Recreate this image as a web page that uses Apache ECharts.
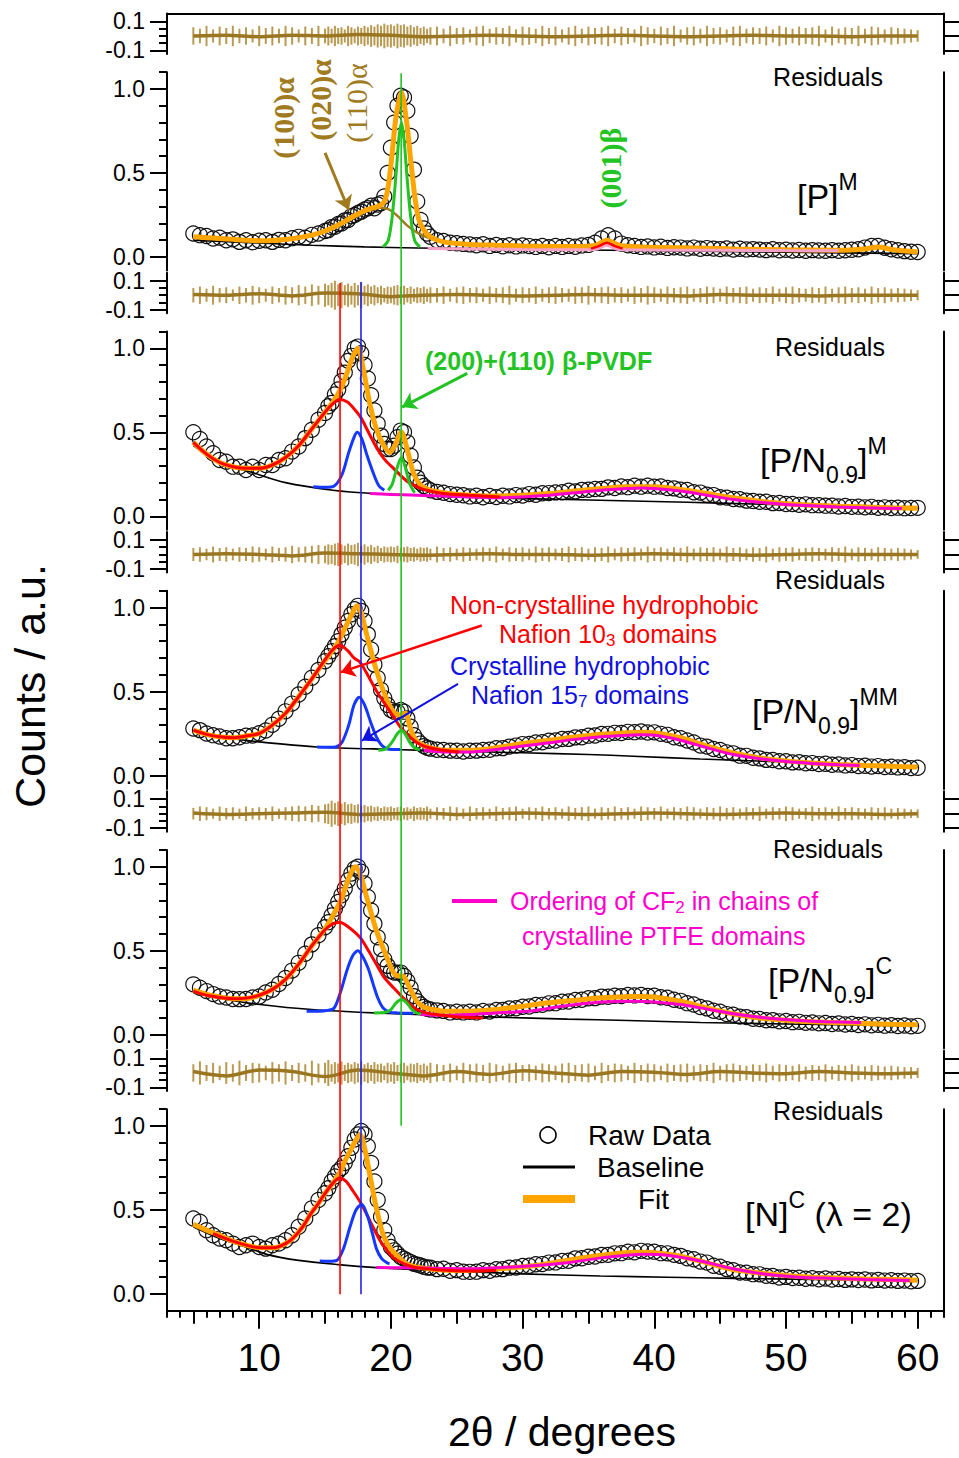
<!DOCTYPE html>
<html><head><meta charset="utf-8">
<script src="https://cdn.jsdelivr.net/npm/echarts@6/dist/echarts.min.js"></script>
<style>html,body{margin:0;padding:0;background:#fff}#c{width:959px;height:1458px}</style>
</head><body><div id="c"></div>
<script>
// ---------------- DATA ----------------
const rawX = [
 5,5.5,6,6.5,7,7.5,8,8.5,9,9.5,
 10,10.5,11,11.5,12,12.5,13,13.5,14,14.5,
 15,15.25,15.5,15.75,16,16.25,16.5,16.75,17,17.25,
 17.5,17.75,18,18.25,18.5,18.75,19,19.25,19.5,19.75,
 20,20.25,20.5,20.75,21,21.25,21.5,21.75,22,22.25,
 22.5,22.75,23,23.5,24,24.5,25,25.5,26,26.5,
 27,27.5,28,28.5,29,29.5,30,30.5,31,31.5,
 32,32.5,33,33.5,34,34.5,35,35.5,36,36.5,
 37,37.5,38,38.5,39,39.5,40,40.5,41,41.5,
 42,42.5,43,43.5,44,44.5,45,45.5,46,46.5,
 47,47.5,48,48.5,49,49.5,50,50.5,51,51.5,
 52,52.5,53,53.5,54,54.5,55,55.5,56,56.5,
 57,57.5,58,58.5,59,59.5,60];

const raw1 = [
 0.14,0.13,0.125,0.11,0.115,0.1,0.105,0.09,0.1,0.088,
 0.097,0.1,0.09,0.102,0.1,0.112,0.12,0.115,0.132,0.14,
 0.155,0.16,0.178,0.18,0.197,0.2,0.218,0.22,0.243,0.25,
 0.262,0.27,0.283,0.29,0.305,0.29,0.312,0.32,0.36,0.5,
 0.65,0.8,0.9,0.96,0.95,0.87,0.72,0.52,0.33,0.22,
 0.17,0.14,0.12,0.1,0.095,0.085,0.082,0.078,0.075,0.07,
 0.076,0.066,0.072,0.064,0.07,0.063,0.069,0.065,0.06,0.066,
 0.058,0.066,0.06,0.066,0.061,0.069,0.072,0.085,0.11,0.13,
 0.11,0.08,0.07,0.066,0.06,0.063,0.057,0.061,0.054,0.058,
 0.056,0.051,0.056,0.049,0.053,0.05,0.047,0.051,0.044,0.049,
 0.045,0.047,0.044,0.041,0.046,0.04,0.043,0.039,0.042,0.037,
 0.041,0.039,0.037,0.041,0.037,0.04,0.043,0.046,0.056,0.066,
 0.066,0.055,0.046,0.04,0.035,0.031,0.03];
const raw2 = [
 0.5,0.46,0.415,0.375,0.335,0.325,0.295,0.295,0.275,0.295,
 0.275,0.305,0.305,0.335,0.345,0.385,0.415,0.465,0.515,0.575,
 0.615,0.655,0.675,0.725,0.755,0.805,0.855,0.925,0.955,1.0,
 1.01,0.97,0.9,0.82,0.72,0.63,0.55,0.48,0.43,0.4,
 0.4,0.42,0.47,0.51,0.5,0.44,0.36,0.29,0.23,0.2,
 0.18,0.165,0.155,0.145,0.14,0.132,0.128,0.125,0.118,0.122,
 0.113,0.121,0.114,0.122,0.118,0.126,0.123,0.132,0.128,0.137,
 0.138,0.142,0.143,0.152,0.148,0.157,0.158,0.162,0.163,0.172,
 0.168,0.177,0.173,0.182,0.176,0.182,0.176,0.177,0.168,0.166,
 0.158,0.156,0.143,0.141,0.128,0.126,0.113,0.111,0.103,0.101,
 0.093,0.091,0.086,0.086,0.078,0.079,0.073,0.073,0.068,0.071,
 0.066,0.066,0.063,0.063,0.058,0.061,0.056,0.057,0.053,0.056,
 0.05,0.053,0.049,0.051,0.048,0.049,0.05];
const raw3 = [
 0.28,0.27,0.25,0.24,0.232,0.222,0.222,0.228,0.237,0.238,
 0.252,0.268,0.302,0.338,0.382,0.428,0.482,0.528,0.582,0.628,
 0.68,0.71,0.74,0.77,0.8,0.84,0.88,0.92,0.96,0.99,
 1.01,0.98,0.92,0.84,0.75,0.66,0.58,0.51,0.46,0.42,
 0.39,0.38,0.38,0.39,0.38,0.34,0.29,0.24,0.21,0.19,
 0.175,0.165,0.16,0.153,0.152,0.148,0.147,0.143,0.147,0.148,
 0.152,0.153,0.162,0.163,0.172,0.178,0.187,0.188,0.197,0.198,
 0.207,0.208,0.217,0.218,0.227,0.228,0.237,0.238,0.247,0.248,
 0.254,0.253,0.26,0.258,0.262,0.256,0.257,0.248,0.242,0.228,
 0.222,0.208,0.197,0.178,0.172,0.158,0.152,0.138,0.132,0.118,
 0.117,0.106,0.102,0.093,0.092,0.085,0.085,0.078,0.079,0.073,
 0.074,0.068,0.07,0.064,0.066,0.06,0.062,0.056,0.058,0.053,
 0.056,0.05,0.052,0.048,0.05,0.044,0.046];
const raw4 = [
 0.3,0.28,0.26,0.242,0.228,0.222,0.213,0.212,0.213,0.222,
 0.228,0.252,0.268,0.302,0.338,0.382,0.428,0.482,0.538,0.592,
 0.64,0.67,0.71,0.75,0.79,0.83,0.87,0.92,0.96,0.99,
 1.0,0.97,0.9,0.82,0.74,0.66,0.58,0.51,0.45,0.41,
 0.38,0.37,0.37,0.37,0.35,0.32,0.28,0.23,0.2,0.18,
 0.165,0.155,0.15,0.145,0.142,0.133,0.137,0.133,0.137,0.133,
 0.142,0.138,0.147,0.148,0.157,0.158,0.167,0.168,0.177,0.178,
 0.187,0.188,0.197,0.198,0.207,0.208,0.217,0.218,0.227,0.226,
 0.232,0.23,0.237,0.234,0.237,0.231,0.232,0.223,0.22,0.208,
 0.202,0.188,0.18,0.165,0.157,0.143,0.137,0.123,0.119,0.108,
 0.105,0.095,0.094,0.086,0.087,0.08,0.082,0.075,0.077,0.071,
 0.073,0.068,0.07,0.064,0.067,0.061,0.064,0.058,0.062,0.056,
 0.059,0.054,0.057,0.052,0.055,0.05,0.053];
const raw5 = [
 0.45,0.43,0.38,0.35,0.33,0.32,0.3,0.28,0.29,0.3,
 0.28,0.27,0.29,0.3,0.32,0.35,0.4,0.45,0.51,0.56,
 0.6,0.63,0.67,0.7,0.73,0.75,0.78,0.82,0.87,0.92,
 0.95,0.97,0.95,0.88,0.78,0.67,0.56,0.46,0.38,0.32,
 0.28,0.26,0.24,0.22,0.21,0.2,0.19,0.18,0.175,0.17,
 0.162,0.158,0.157,0.148,0.15,0.138,0.142,0.133,0.132,0.133,
 0.142,0.138,0.147,0.148,0.157,0.158,0.167,0.168,0.177,0.178,
 0.187,0.188,0.197,0.198,0.212,0.213,0.222,0.223,0.232,0.233,
 0.242,0.243,0.252,0.248,0.257,0.253,0.252,0.243,0.242,0.233,
 0.227,0.213,0.207,0.193,0.187,0.168,0.162,0.148,0.142,0.128,
 0.127,0.118,0.117,0.108,0.107,0.098,0.102,0.095,0.097,0.091,
 0.094,0.088,0.092,0.086,0.089,0.084,0.087,0.083,0.086,0.081,
 0.084,0.08,0.082,0.078,0.08,0.076,0.078];

// fits and components as [2theta, counts]
const fit1 = [[5,0.12],[6,0.115],[7,0.11],[8,0.105],[9,0.1],[10,0.097],[11,0.098],[12,0.104],[13,0.115],[14,0.13],[15,0.155],[16,0.19],[17,0.235],[18,0.275],[18.5,0.29],[19,0.3],[19.5,0.33],[19.8,0.42],[20.1,0.62],[20.4,0.84],[20.8,0.98],[21.2,0.8],[21.5,0.58],[21.8,0.37],[22.1,0.23],[22.5,0.16],[23,0.12],[24,0.09],[26,0.075],[28,0.07],[30,0.066],[32,0.063],[34,0.062],[35.5,0.068],[36.4,0.1],[37.3,0.07],[39,0.06],[42,0.055],[46,0.048],[50,0.043],[54,0.04],[56,0.048],[57,0.06],[58,0.045],[60,0.03]];
const base1 = [[5,0.1],[8,0.09],[10,0.083],[14,0.07],[18,0.06],[22,0.054],[26,0.05],[30,0.046],[40,0.037],[50,0.028],[60,0.02]];
const alpha1 = [[8,0.1],[10,0.098],[12,0.104],[14,0.13],[16,0.19],[18,0.27],[19,0.295],[19.8,0.285],[20.5,0.245],[21.2,0.19],[22,0.145],[23,0.11],[24,0.09],[26,0.075]];
const green1 = [[19.4,0.06],[19.8,0.1],[20.1,0.24],[20.4,0.5],[20.6,0.7],[20.8,0.8],[21,0.7],[21.2,0.5],[21.5,0.24],[21.8,0.1],[22.2,0.06]];
const pink1 = [[22.8,0.05],[26,0.048],[30,0.045],[34,0.043],[35.5,0.045],[36.4,0.07],[37.3,0.045],[40,0.042],[45,0.04],[50,0.038],[54,0.037]];
const red1 = [[35.2,0.05],[35.8,0.065],[36.4,0.085],[37,0.065],[37.6,0.05]];

const fit2 = [[5,0.44],[6,0.37],[7,0.32],[8,0.295],[9,0.285],[10,0.285],[11,0.305],[12,0.35],[13,0.42],[14,0.52],[15,0.62],[15.6,0.68],[16.2,0.76],[16.7,0.86],[17.1,0.95],[17.5,1.0],[17.9,0.88],[18.4,0.67],[18.9,0.52],[19.4,0.43],[19.9,0.38],[20.3,0.42],[20.8,0.5],[21.2,0.41],[21.7,0.26],[22.2,0.19],[22.8,0.16],[24,0.14],[26,0.125],[28,0.12],[30,0.125],[32,0.135],[34,0.15],[36,0.165],[38,0.175],[40,0.175],[42,0.16],[44,0.135],[46,0.11],[48,0.09],[50,0.075],[52,0.066],[54,0.06],[56,0.055],[58,0.05],[60,0.048]];
const base2 = [[5,0.42],[7,0.32],[9.5,0.26],[12,0.2],[15.6,0.155],[18.7,0.135],[22,0.125],[25,0.115],[30,0.105],[35,0.097],[40,0.088],[45,0.078],[50,0.068],[55,0.057],[60,0.047]];
const red2 = [[5,0.44],[6,0.37],[7,0.32],[8,0.295],[9,0.285],[10,0.285],[11,0.305],[12,0.35],[13,0.42],[14,0.52],[15,0.62],[15.6,0.67],[16.1,0.695],[16.7,0.68],[17.2,0.64],[17.7,0.59],[18.3,0.5],[18.9,0.41],[19.5,0.34],[20.2,0.285],[21.2,0.21],[22,0.175],[22.7,0.155],[24,0.135],[26,0.125],[28.3,0.115]];
const blue2 = [[14.1,0.175],[15,0.172],[15.7,0.18],[16.3,0.25],[16.8,0.38],[17.2,0.47],[17.45,0.5],[17.8,0.46],[18.2,0.36],[18.7,0.25],[19.1,0.18],[19.5,0.155]];
const green2 = [[19.8,0.155],[20.1,0.19],[20.4,0.27],[20.8,0.35],[21.1,0.29],[21.4,0.2],[21.8,0.14]];
const mag2 = [[18.4,0.135],[20,0.13],[22,0.125],[24,0.12],[26,0.115],[28.3,0.11],[30,0.115],[32,0.125],[34,0.14],[36,0.155],[38,0.165],[39,0.168],[40,0.165],[42,0.15],[44,0.125],[46,0.1],[48,0.083],[50,0.07],[52,0.062],[54,0.055],[56,0.05],[58.8,0.046]];

const fit3 = [[5,0.27],[6,0.245],[7,0.23],[8,0.225],[9,0.235],[10,0.25],[11,0.3],[12,0.37],[13,0.47],[14,0.575],[15,0.685],[15.9,0.78],[16.65,0.9],[17.1,0.97],[17.4,1.01],[17.7,0.98],[18.16,0.84],[18.9,0.625],[19.7,0.45],[20.2,0.38],[20.7,0.36],[21.1,0.37],[21.45,0.29],[21.8,0.22],[22.2,0.19],[23,0.165],[24,0.15],[26,0.15],[28,0.165],[30,0.19],[32,0.21],[34,0.23],[36,0.245],[38,0.255],[39,0.258],[40,0.255],[42,0.225],[44,0.175],[46,0.135],[48,0.105],[50,0.087],[52,0.075],[54,0.066],[56,0.06],[58,0.055],[60,0.05]];
const base3 = [[5,0.26],[7.5,0.225],[10,0.2],[14.4,0.17],[20.2,0.155],[25,0.145],[30,0.135],[35,0.125],[38.4,0.115],[43.5,0.098],[50,0.08],[55,0.065],[60,0.05]];
const red3 = [[5,0.27],[6,0.245],[7,0.23],[8,0.225],[9,0.235],[10,0.25],[11,0.3],[12,0.37],[13,0.47],[14,0.575],[15,0.69],[15.6,0.75],[16.1,0.775],[16.7,0.745],[17.2,0.7],[17.65,0.675],[18.3,0.59],[18.9,0.505],[19.6,0.42],[20.2,0.35],[20.8,0.28],[21.45,0.23],[22,0.195],[22.7,0.17],[24,0.15],[25.2,0.14]];
const blue3 = [[14.4,0.17],[15.3,0.168],[15.8,0.17],[16.3,0.2],[16.8,0.3],[17.2,0.42],[17.6,0.466],[18,0.42],[18.5,0.31],[18.9,0.23],[19.3,0.18],[19.7,0.16],[20.2,0.155],[20.7,0.155]];
const green3 = [[19.05,0.15],[19.6,0.158],[20.1,0.2],[20.5,0.25],[20.8,0.27],[21.1,0.245],[21.5,0.19],[21.9,0.16],[22.2,0.155]];
const mag3 = [[22.5,0.15],[24,0.14],[26,0.14],[28,0.155],[30,0.175],[32,0.195],[34,0.215],[36,0.23],[38,0.24],[39,0.242],[40,0.24],[42,0.21],[44,0.165],[46,0.125],[48,0.1],[50,0.083],[52,0.072],[54,0.064],[55.6,0.06]];

const fit4 = [[5,0.265],[6,0.24],[7,0.225],[8,0.215],[9,0.215],[10,0.235],[11,0.27],[12,0.33],[13,0.42],[14,0.53],[15,0.63],[15.6,0.71],[16.2,0.8],[16.65,0.9],[17,0.97],[17.3,1.0],[17.65,0.96],[18.16,0.82],[18.9,0.62],[19.7,0.46],[20.2,0.37],[20.6,0.35],[20.9,0.35],[21.3,0.3],[21.96,0.2],[22.5,0.165],[23.2,0.15],[24,0.14],[26,0.14],[28,0.15],[30,0.17],[32,0.19],[34,0.205],[36,0.22],[38,0.227],[39,0.228],[40,0.225],[42,0.2],[44,0.16],[46,0.125],[48,0.1],[50,0.087],[52,0.078],[54,0.072],[56,0.067],[58,0.062],[60,0.06]];
const base4 = [[5,0.25],[7.5,0.21],[10.06,0.18],[14,0.15],[18.7,0.13],[24,0.115],[28,0.105],[33.4,0.093],[38,0.085],[43.5,0.073],[50,0.064],[55,0.058],[60,0.052]];
const red4 = [[5,0.26],[6,0.235],[7,0.222],[8,0.215],[9,0.218],[10,0.235],[11,0.27],[12,0.33],[13,0.42],[14,0.53],[15,0.625],[15.6,0.66],[16.1,0.67],[16.8,0.64],[17.65,0.58],[18.3,0.5],[18.9,0.42],[19.5,0.34],[20.2,0.28],[20.8,0.23],[21.45,0.18],[22,0.15],[22.7,0.13],[24,0.115],[25.2,0.105],[27,0.1]];
const blue4 = [[13.6,0.14],[14.5,0.14],[15.2,0.145],[15.7,0.16],[16.2,0.26],[16.65,0.38],[17.1,0.47],[17.5,0.5],[17.9,0.46],[18.3,0.39],[18.66,0.3],[19,0.22],[19.4,0.16],[19.9,0.135],[20.5,0.13],[21.7,0.128]];
const green4 = [[18.7,0.13],[19.5,0.132],[20,0.15],[20.4,0.19],[20.8,0.21],[21.2,0.19],[21.6,0.15],[22,0.128],[22.3,0.125]];
const mag4 = [[22.2,0.12],[24,0.115],[26,0.12],[28,0.13],[30.8,0.143],[33,0.17],[36,0.195],[38.4,0.2],[40,0.195],[42,0.18],[43.5,0.16],[46,0.125],[48.5,0.1],[51,0.085],[53,0.078],[55.7,0.073]];

const fit5 = [[5,0.415],[6,0.38],[6.8,0.355],[8,0.315],[9.3,0.285],[10.2,0.275],[11.1,0.275],[12,0.3],[12.6,0.335],[13.3,0.4],[13.9,0.475],[14.5,0.54],[15.1,0.61],[15.6,0.66],[16.1,0.72],[16.5,0.79],[16.9,0.85],[17.3,0.91],[17.65,0.95],[18,0.87],[18.4,0.71],[18.9,0.51],[19.4,0.355],[19.8,0.29],[20.2,0.25],[21.2,0.18],[22,0.16],[23.2,0.148],[25,0.14],[27,0.145],[29,0.155],[31,0.17],[33,0.195],[35,0.22],[37,0.24],[39,0.248],[40,0.246],[42,0.225],[44,0.185],[46,0.145],[48,0.125],[50,0.11],[52,0.1],[54,0.095],[56,0.09],[58,0.086],[60,0.082]];
const base5 = [[5,0.4],[7,0.33],[9,0.28],[10.57,0.236],[13,0.2],[16,0.175],[18.9,0.157],[22,0.145],[26,0.132],[30,0.12],[35.9,0.107],[41,0.1],[46,0.093],[52,0.087],[60,0.08]];
const red5 = [[6.5,0.36],[8,0.315],[9.3,0.285],[10.2,0.275],[11.1,0.275],[12,0.3],[12.6,0.335],[13.3,0.4],[13.9,0.475],[14.5,0.54],[15.1,0.61],[15.6,0.66],[16.1,0.69],[16.6,0.67],[17.15,0.61],[17.65,0.55],[18.16,0.475],[18.7,0.39],[19.2,0.315],[19.7,0.26],[20.2,0.215],[21,0.18],[21.96,0.157],[23.5,0.145],[25.8,0.137],[28,0.14]];
const blue5 = [[14.6,0.196],[15.3,0.195],[15.9,0.2],[16.4,0.27],[16.9,0.4],[17.35,0.5],[17.78,0.534],[18.2,0.47],[18.6,0.36],[18.9,0.27],[19.3,0.21],[19.7,0.186],[19.9,0.18]];
const mag5 = [[18.9,0.157],[21,0.156],[24,0.152],[26,0.15],[28.3,0.157],[31,0.17],[33.4,0.186],[36,0.215],[39.2,0.236],[41,0.23],[43.5,0.196],[46,0.15],[48.5,0.117],[51,0.1],[53.6,0.093],[56,0.087],[59.4,0.08]];

// residuals: half-height of each residual bar (at rawX) and the residual trace
const amp1 = [
 0.06,0.05,0.07,0.045,0.065,0.055,0.07,0.05,0.06,0.045,
 0.07,0.055,0.065,0.05,0.07,0.06,0.045,0.065,0.055,0.07,
 0.05,0.065,0.05,0.07,0.055,0.06,0.045,0.07,0.06,0.05,
 0.065,0.055,0.07,0.06,0.075,0.065,0.08,0.07,0.085,0.075,
 0.08,0.07,0.085,0.075,0.08,0.065,0.075,0.06,0.07,0.055,
 0.065,0.05,0.06,0.065,0.05,0.07,0.055,0.06,0.045,0.065,
 0.07,0.05,0.06,0.055,0.07,0.045,0.065,0.06,0.05,0.07,
 0.055,0.065,0.045,0.06,0.07,0.05,0.065,0.055,0.06,0.07,
 0.05,0.065,0.055,0.045,0.07,0.06,0.05,0.065,0.055,0.07,
 0.045,0.06,0.065,0.05,0.07,0.055,0.06,0.045,0.065,0.07,
 0.05,0.06,0.055,0.065,0.045,0.07,0.06,0.05,0.065,0.055,
 0.06,0.07,0.045,0.065,0.05,0.06,0.055,0.07,0.05,0.065,
 0.06,0.045,0.06,0.055,0.05,0.045,0.04];
const amp2 = [
 0.05,0.06,0.045,0.065,0.05,0.055,0.04,0.06,0.05,0.065,
 0.055,0.045,0.06,0.05,0.065,0.055,0.07,0.06,0.075,0.065,
 0.08,0.07,0.085,0.1,0.075,0.09,0.07,0.08,0.065,0.085,
 0.07,0.09,0.065,0.075,0.06,0.07,0.055,0.065,0.05,0.06,
 0.055,0.065,0.07,0.06,0.065,0.05,0.06,0.045,0.055,0.05,
 0.06,0.045,0.055,0.05,0.06,0.045,0.055,0.06,0.05,0.055,
 0.045,0.06,0.05,0.055,0.065,0.045,0.055,0.05,0.06,0.045,
 0.055,0.06,0.05,0.045,0.06,0.055,0.065,0.05,0.055,0.06,
 0.05,0.055,0.045,0.06,0.05,0.065,0.055,0.045,0.06,0.05,
 0.055,0.06,0.045,0.05,0.06,0.055,0.045,0.06,0.05,0.055,
 0.06,0.045,0.055,0.05,0.06,0.045,0.055,0.06,0.05,0.045,
 0.055,0.05,0.06,0.045,0.055,0.06,0.05,0.055,0.045,0.06,
 0.05,0.055,0.045,0.05,0.045,0.04,0.035];
const amp3 = [
 0.045,0.05,0.04,0.055,0.045,0.05,0.04,0.05,0.045,0.055,
 0.05,0.04,0.055,0.045,0.05,0.06,0.05,0.055,0.06,0.065,
 0.06,0.07,0.065,0.075,0.08,0.07,0.06,0.075,0.065,0.07,
 0.08,0.06,0.07,0.055,0.065,0.05,0.06,0.045,0.055,0.05,
 0.055,0.05,0.06,0.045,0.05,0.055,0.045,0.05,0.04,0.05,
 0.045,0.05,0.04,0.055,0.045,0.05,0.04,0.05,0.045,0.04,
 0.05,0.045,0.055,0.04,0.05,0.045,0.05,0.04,0.055,0.045,
 0.05,0.04,0.045,0.055,0.045,0.05,0.04,0.05,0.045,0.055,
 0.04,0.05,0.045,0.05,0.04,0.055,0.045,0.05,0.04,0.05,
 0.045,0.055,0.04,0.05,0.045,0.05,0.04,0.055,0.045,0.05,
 0.04,0.05,0.045,0.055,0.04,0.05,0.045,0.05,0.04,0.045,
 0.05,0.045,0.04,0.05,0.045,0.055,0.04,0.05,0.045,0.04,
 0.05,0.045,0.04,0.045,0.04,0.035,0.03];
const amp4 = [
 0.04,0.05,0.045,0.035,0.05,0.04,0.045,0.035,0.05,0.04,
 0.045,0.04,0.05,0.035,0.045,0.05,0.055,0.05,0.06,0.055,
 0.065,0.07,0.09,0.075,0.085,0.07,0.08,0.065,0.07,0.06,
 0.065,0.055,0.06,0.05,0.055,0.045,0.05,0.04,0.05,0.045,
 0.05,0.04,0.045,0.05,0.04,0.045,0.035,0.05,0.04,0.045,
 0.04,0.05,0.035,0.045,0.04,0.05,0.045,0.035,0.05,0.04,
 0.045,0.035,0.05,0.04,0.045,0.05,0.035,0.045,0.04,0.05,
 0.04,0.045,0.035,0.05,0.04,0.045,0.05,0.035,0.045,0.04,
 0.05,0.04,0.045,0.035,0.05,0.045,0.04,0.05,0.035,0.045,
 0.04,0.05,0.045,0.035,0.045,0.04,0.05,0.04,0.045,0.035,
 0.045,0.04,0.05,0.035,0.045,0.04,0.05,0.045,0.035,0.04,
 0.05,0.04,0.045,0.035,0.05,0.04,0.045,0.04,0.035,0.045,
 0.04,0.045,0.035,0.04,0.035,0.03,0.03];
const amp5 = [
 0.06,0.08,0.055,0.07,0.05,0.075,0.06,0.085,0.055,0.07,
 0.065,0.05,0.075,0.06,0.08,0.055,0.07,0.06,0.085,0.065,
 0.07,0.09,0.06,0.075,0.065,0.08,0.055,0.07,0.06,0.075,
 0.065,0.08,0.06,0.07,0.055,0.075,0.06,0.065,0.05,0.07,
 0.06,0.075,0.055,0.065,0.07,0.05,0.065,0.06,0.07,0.055,
 0.065,0.05,0.07,0.06,0.055,0.065,0.05,0.07,0.06,0.065,
 0.055,0.07,0.06,0.05,0.065,0.07,0.055,0.06,0.05,0.065,
 0.06,0.05,0.065,0.07,0.055,0.06,0.065,0.05,0.07,0.055,
 0.065,0.06,0.05,0.07,0.055,0.065,0.06,0.05,0.065,0.055,
 0.06,0.065,0.05,0.06,0.055,0.07,0.05,0.06,0.065,0.055,
 0.05,0.06,0.055,0.065,0.05,0.06,0.055,0.05,0.06,0.045,
 0.055,0.05,0.06,0.045,0.055,0.05,0.06,0.05,0.045,0.055,
 0.05,0.045,0.05,0.045,0.04,0.04,0.035];
const traceX = [5,7.5,10,12.5,15,17.5,20,22.5,25,27.5,30,32.5,35,37.5,40,42.5,45,47.5,50,52.5,55,57.5,60];
const trace1 = [0,0.005,-0.005,0.005,0,0.01,0.005,-0.005,0,0.005,0,-0.005,0,0.005,0,-0.005,0,0.005,0,0,-0.005,0,0];
const trace2 = [0.005,0,0.01,-0.005,0.015,0.01,-0.01,0,0.005,0,-0.005,0,0.005,0,0,-0.005,0.005,0,0,-0.005,0,0,0];
const trace3 = [0,0.005,0,-0.01,0.01,0.005,0,-0.005,0,0.005,0,0,-0.005,0,0.005,0,0,-0.005,0,0.005,0,0,0];
const trace4 = [0.005,-0.005,0,0.005,0.01,-0.005,0,0.005,-0.005,0,0.005,0,-0.005,0,0.005,0,-0.005,0,0.005,0,0,-0.005,0];
const trace5 = [0.01,-0.02,0.02,0.01,-0.025,0.02,0,-0.02,0.01,-0.01,0.015,0,-0.015,0.01,0.005,-0.01,0.01,0,-0.005,0.01,0,-0.005,0];

// annotation arrows [[from],[to]] in data units of each panel
const arrowAlpha = [[15.0,0.62],[16.8,0.28]];
const arrowPVDF = [[25.8,0.85],[20.85,0.65]];
const arrowRed = [[26.9,0.893],[16.2,0.615]];
const arrowBlue = [[25.1,0.546],[17.8,0.208]];
// vertical reference lines: 2theta and span measured in panel units (0 = top of first panel, 5 = bottom)
const refX = [16.14, 17.73, 20.78];
const refSpan = [[1.04,4.94],[1.036,4.94],[0.23,4.29]];

// tick positions
const xMajor = [10,20,30,40,50,60];
const xMid = [5,15,25,35,45,55];
const xMinor = [3,4,5,6,7,8,9,10,11,12,13,14,15,16,17,18,19,20,21,22,23,24,25,26,27,28,29,30,31,32,33,34,35,36,37,38,39,40,41,42,43,44,45,46,47,48,49,50,51,52,53,54,55,56,57,58,59,60,61,62];
const yMajor = [0, 0.5, 1.0];
const yMinor = [0.1,0.2,0.3,0.4,0.6,0.7,0.8,0.9,1.1];
const rMajor = [-0.1, 0.1];
const rMinor = [-0.05, 0, 0.05];
const rRight = [-0.1, 0, 0.1];

// ---------------- LAYOUT / STYLE ----------------
const FONT = 'Liberation Sans, Arial, sans-serif';
const SERIF = 'Liberation Serif, Times New Roman, serif';
const L = 167, W = 777, STEP = 259.25, RES_TOP = 13.5, RES_H = 40.6, MAIN_TOP = 72.2, UNIT = 168;
const AX = {color:'#000', width:2};
const C = {orange:'#ffa500', red:'#ff0000', blue:'#1438ff', green:'#22c322', mag:'#ff00cc', pink:'#f7a0c8', brown:'#a07a1e', resBar:'#b99a52', resLine:'#9b7620'};

const grids = [], xAxes = [], yAxes = [], series = [];
function addGrid(rect, xOpt) {
  grids.push(Object.assign({left:L, width:W, containLabel:false}, rect));
  const gi = grids.length - 1;
  const base = {type:'value', gridIndex:gi, min:3, max:62, show:false, splitLine:{show:false}};
  const opt = Object.assign(base, xOpt || {});
  opt.axisLine = Object.assign({onZero:false}, opt.axisLine || {});
  xAxes.push(opt);
  return gi;
}
function addY(opt) {
  const o = Object.assign({type:'value', splitLine:{show:false}, axisLine:{show:false}, axisTick:{show:false}, axisLabel:{show:false}}, opt);
  o.axisLine = Object.assign({onZero:false}, o.axisLine);
  yAxes.push(o);
  return yAxes.length - 1;
}
const labelStyle = {color:'#000', fontFamily:FONT, fontSize:23, lineHeight:20, margin:22, formatter: v => Number(v).toFixed(1)};

const panels = [
  {raw:raw1, fit:fit1, base:base1, amp:amp1, trace:trace1, under:[[alpha1, C.brown, 2.5]], over:[[pink1, C.pink, 3],[red1, C.red, 2.5],[green1, C.green, 3]]},
  {raw:raw2, fit:fit2, base:base2, amp:amp2, trace:trace2, under:[], over:[[mag2, C.mag, 3],[red2, C.red, 3],[blue2, C.blue, 3],[green2, C.green, 3]]},
  {raw:raw3, fit:fit3, base:base3, amp:amp3, trace:trace3, under:[], over:[[mag3, C.mag, 3],[red3, C.red, 3],[blue3, C.blue, 3],[green3, C.green, 3]]},
  {raw:raw4, fit:fit4, base:base4, amp:amp4, trace:trace4, under:[], over:[[mag4, C.mag, 3],[red4, C.red, 3],[blue4, C.blue, 3],[green4, C.green, 3]]},
  {raw:raw5, fit:fit5, base:base5, amp:amp5, trace:trace5, under:[], over:[[mag5, C.mag, 3],[red5, C.red, 3],[blue5, C.blue, 3]]}
];
const mainAxis = [];

panels.forEach((p, k) => {
  const off = STEP * k;
  const last = k === 4;
  // residual strip
  const gr = addGrid({top:RES_TOP + off, height:RES_H}, k === 0 ? {show:true, position:'top', axisLine:{show:true, lineStyle:AX}, axisTick:{show:false}, axisLabel:{show:false}} : null);
  const yr = addY({gridIndex:gr, min:-0.125, max:0.155, position:'left', axisLine:{show:true, lineStyle:AX},
    axisTick:{show:true, length:17, lineStyle:AX, customValues:rMajor}, axisLabel:Object.assign({show:true, customValues:rMajor}, labelStyle)});
  addY({gridIndex:gr, min:-0.125, max:0.155, position:'right', axisLine:{show:true, lineStyle:AX},
    axisTick:{show:true, length:15, lineStyle:AX, customValues:rRight}});
  const gr2 = addGrid({top:RES_TOP + off, height:RES_H});
  addY({gridIndex:gr2, min:-0.125, max:0.155, position:'left', axisTick:{show:true, length:8, lineStyle:AX, customValues:rMinor}});
  // main panel
  const ymin = last ? -0.1 : -0.08;
  const h = (1.1 - ymin) * UNIT;
  const xOpt = last ? {show:true, position:'bottom', axisLine:{show:true, lineStyle:AX},
      axisTick:{show:true, length:18, lineStyle:AX, customValues:xMajor},
      axisLabel:{show:true, customValues:xMajor, color:'#000', fontFamily:FONT, fontSize:39, margin:27}} : null;
  const gm = addGrid({top:MAIN_TOP + off, height:h}, xOpt);
  const ym = addY({gridIndex:gm, min:ymin, max:1.1, position:'left', axisLine:{show:true, lineStyle:AX},
    axisTick:{show:true, length:17, lineStyle:AX, customValues:yMajor}, axisLabel:Object.assign({show:true, customValues:yMajor}, labelStyle)});
  addY({gridIndex:gm, min:ymin, max:1.1, position:'right', axisLine:{show:true, lineStyle:AX}});
  const gm2 = addGrid({top:MAIN_TOP + off, height:h});
  addY({gridIndex:gm2, min:ymin, max:1.1, position:'left', axisTick:{show:true, length:8, lineStyle:AX, customValues:yMinor}});
  mainAxis.push([gm, ym]);

  // residual bars
  series.push({type:'custom', xAxisIndex:gr, yAxisIndex:yr, silent:true, z:2,
    data: rawX.map((x, i) => [x, p.amp[i]]),
    renderItem: (params, api) => {
      const x = api.value(0), a = api.value(1);
      const p1 = api.coord([x, -a]), p2 = api.coord([x, a]);
      return {type:'line', shape:{x1:p1[0], y1:p1[1], x2:p2[0], y2:p2[1]}, style:{stroke:C.resBar, lineWidth:2}};
    }});
  series.push({type:'line', xAxisIndex:gr, yAxisIndex:yr, silent:true, z:3, showSymbol:false, smooth:0.3,
    data: traceX.map((x, i) => [x, p.trace[i]]), lineStyle:{color:C.resLine, width:3.5}});
  // raw data
  series.push({type:'scatter', xAxisIndex:gm, yAxisIndex:ym, silent:true, z:2, symbol:'circle', symbolSize:15,
    data: rawX.map((x, i) => [x, p.raw[i]]),
    itemStyle:{color:'rgba(0,0,0,0)', borderColor:'#111', borderWidth:1.2, opacity:1}});
  const curve = (pts, color, width, z) => ({type:'line', xAxisIndex:gm, yAxisIndex:ym, silent:true, z:z, showSymbol:false, smooth:0.3, data:pts, lineStyle:{color:color, width:width}});
  series.push(curve(p.base, '#000', 1.6, 3));
  p.under.forEach(c => series.push(curve(c[0], c[1], c[2], 3)));
  series.push(curve(p.fit, C.orange, 5, 4));
  p.over.forEach(c => series.push(curve(c[0], c[1], c[2], 5)));
});

// extra bottom tick layers
const gBottom = MAIN_TOP + STEP * 4, hBottom = 1.2 * UNIT;
addGrid({top:gBottom, height:hBottom}, {show:true, position:'bottom', axisLine:{show:false}, axisTick:{show:true, length:13, lineStyle:AX, customValues:xMid}, axisLabel:{show:false}});
addY({gridIndex:grids.length - 1, min:-0.1, max:1.1});
addGrid({top:gBottom, height:hBottom}, {show:true, position:'bottom', axisLine:{show:false}, axisTick:{show:true, length:7, lineStyle:AX, customValues:xMinor}, axisLabel:{show:false}});
addY({gridIndex:grids.length - 1, min:-0.1, max:1.1});

// overlay for vertical reference lines
const gO = addGrid({top:RES_TOP, height:STEP * 5});
const yO = addY({gridIndex:gO, min:0, max:5, inverse:true, show:false});
const refColors = ['#ff0000', '#2323e6', '#22c322'];
refX.forEach((x, i) => {
  series.push({type:'line', xAxisIndex:gO, yAxisIndex:yO, silent:true, z:10, showSymbol:false,
    data:[[x, refSpan[i][0]], [x, refSpan[i][1]]], lineStyle:{color:refColors[i], width:1.6}});
});

// arrows
function arrow(panel, coords, color, width) {
  const [gx, gy] = mainAxis[panel];
  series.push({type:'lines', coordinateSystem:'cartesian2d', xAxisIndex:gx, yAxisIndex:gy, silent:true, z:11,
    symbol:['none', 'arrow'], symbolSize:[1, 14], data:[{coords:coords}],
    lineStyle:{color:color, width:width, opacity:1, curveness:0}});
}
arrow(0, arrowAlpha, C.brown, 3);
arrow(1, arrowPVDF, C.green, 3);
arrow(2, arrowRed, C.red, 2.5);
arrow(2, arrowBlue, '#1010e0', 2);

// ---------------- TEXT ----------------
function txt(x, y, text, o) {
  o = o || {};
  return {type:'text', x:x, y:y, rotation:o.rot || 0, z:100, silent:true,
    style:Object.assign({text:text, fill:o.color || '#000', font:(o.weight || 'normal') + ' ' + (o.size || 25) + 'px ' + (o.family || FONT),
      align:o.align || 'left', verticalAlign:o.va || 'middle'}, o.lh ? {lineHeight:o.lh} : {}, o.rich ? {rich:o.rich} : {})};
}
function sampleRich(size, sub) {
  return {
    b:{fontSize:size, fontFamily:FONT, lineHeight:52, fill:'#000'},
    s:{fontSize:sub, fontFamily:FONT, lineHeight:30, verticalAlign:'bottom', fill:'#000'},
    p:{fontSize:sub, fontFamily:FONT, lineHeight:20, verticalAlign:'top', fill:'#000'}
  };
}
function annRich(color) {
  return {
    a:{fontSize:25, fontFamily:FONT, lineHeight:30, fill:color},
    s:{fontSize:17, fontFamily:FONT, lineHeight:17, verticalAlign:'bottom', fill:color}
  };
}
const residualY = [77, 347, 580, 849, 1111];
const residualX = [828, 830, 830, 828, 828];
const graphics = [];
residualY.forEach((y, i) => graphics.push(txt(residualX[i], y, 'Residuals', {align:'center', size:25})));
graphics.push(txt(797, 196, '{b|[P]}{p|M}', {rich:sampleRich(34, 23)}));
graphics.push(txt(760, 460, '{b|[P/N}{s|0.9}{b|]}{p|M}', {rich:sampleRich(34, 23)}));
graphics.push(txt(752, 711, '{b|[P/N}{s|0.9}{b|]}{p|MM}', {rich:sampleRich(34, 23)}));
graphics.push(txt(768, 980, '{b|[P/N}{s|0.9}{b|]}{p|C}', {rich:sampleRich(34, 23)}));
graphics.push(txt(745, 1214, '{b|[N]}{p|C}{b| (λ = 2)}', {rich:sampleRich(34, 23)}));
// PVDF reflections
graphics.push(txt(283, 118, '(100)α', {rot:Math.PI / 2, align:'center', color:C.brown, weight:'bold', size:30, family:SERIF}));
graphics.push(txt(320, 100, '(020)α', {rot:Math.PI / 2, align:'center', color:C.brown, weight:'bold', size:30, family:SERIF}));
graphics.push(txt(356, 103, '(110)α', {rot:Math.PI / 2, align:'center', color:C.brown, size:30, family:SERIF}));
graphics.push(txt(610, 168, '(001)β', {rot:Math.PI / 2, align:'center', color:C.green, weight:'bold', size:30, family:SERIF}));
graphics.push(txt(425, 361, '(200)+(110) β-PVDF', {color:C.green, weight:'bold', size:25}));
graphics.push(txt(450, 605, 'Non-crystalline hydrophobic', {color:'#ff0000', size:25}));
graphics.push(txt(499, 634, '{a|Nafion 10}{s|3}{a| domains}', {rich:annRich('#ff0000')}));
graphics.push(txt(450, 666, 'Crystalline hydrophobic', {color:'#1010e0', size:25}));
graphics.push(txt(471, 695, '{a|Nafion 15}{s|7}{a| domains}', {rich:annRich('#1010e0')}));
graphics.push({type:'line', z:100, silent:true, shape:{x1:452, y1:901, x2:497, y2:901}, style:{stroke:C.mag, lineWidth:4}});
graphics.push(txt(510, 901, '{a|Ordering of CF}{s|2}{a| in chains of}', {rich:annRich(C.mag)}));
graphics.push(txt(522, 936, 'crystalline PTFE domains', {color:C.mag, size:25}));
// legend
graphics.push({type:'circle', z:100, silent:true, shape:{cx:548, cy:1135, r:8}, style:{fill:'none', stroke:'#000', lineWidth:1.6}});
graphics.push(txt(588, 1135, 'Raw Data', {size:28}));
graphics.push({type:'line', z:100, silent:true, shape:{x1:523, y1:1167, x2:575, y2:1167}, style:{stroke:'#000', lineWidth:3}});
graphics.push(txt(597, 1167, 'Baseline', {size:28}));
graphics.push({type:'line', z:100, silent:true, shape:{x1:523, y1:1199, x2:575, y2:1199}, style:{stroke:C.orange, lineWidth:8}});
graphics.push(txt(638, 1199, 'Fit', {size:28}));
// axis titles
graphics.push(txt(30, 686, 'Counts / a.u.', {rot:Math.PI / 2, align:'center', size:43}));
graphics.push(txt(562, 1432, '2θ / degrees', {align:'center', size:41, lh:42}));

const chart = echarts.init(document.getElementById('c'), null, {renderer:'svg'});
chart.setOption({
  animation:false, backgroundColor:'#fff',
  grid:grids, xAxis:xAxes, yAxis:yAxes, series:series, graphic:graphics
});
</script></body></html>
